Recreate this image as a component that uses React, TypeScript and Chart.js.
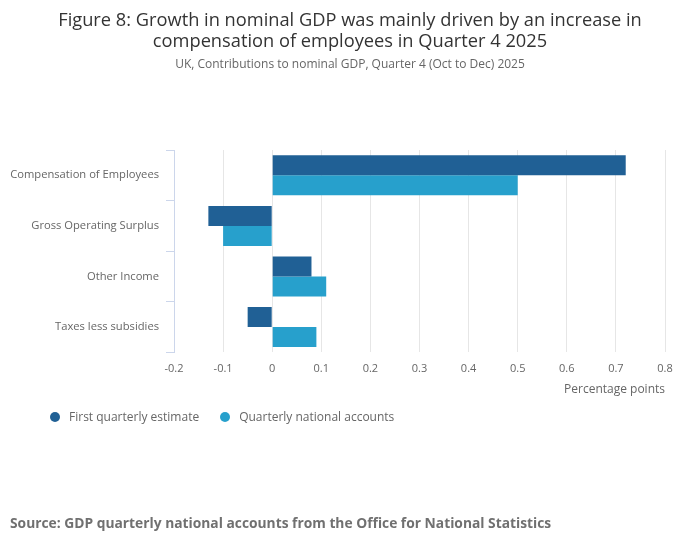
import React, { useEffect, useRef } from "react";
import { Chart, registerables } from "chart.js";

Chart.register(...registerables);

const categories = [
  "Compensation of Employees",
  "Gross Operating Surplus",
  "Other Income",
  "Taxes less subsidies",
];
const firstEstimate = [0.72, -0.13, 0.08, -0.05];
const quarterlyAccounts = [0.5, -0.1, 0.11, 0.09];
const seriesNames = ["First quarterly estimate", "Quarterly national accounts"];
const seriesColors = ["#206095", "#27a0cc"];
const titleLines = [
  "Figure 8: Growth in nominal GDP was mainly driven by an increase in",
  "compensation of employees in Quarter 4 2025",
];
const subtitleText = "UK, Contributions to nominal GDP, Quarter 4 (Oct to Dec) 2025";
const axisTitle = "Percentage points";
const sourceText = "Source: GDP quarterly national accounts from the Office for National Statistics";

const FONT = "'Open Sans', 'Noto Sans', sans-serif";

export default function App() {
  const ref = useRef<HTMLCanvasElement | null>(null);

  useEffect(() => {
    if (!ref.current) return;
    const chart = new Chart(ref.current, {
      type: "bar",
      data: {
        labels: categories,
        datasets: [
          {
            label: seriesNames[0],
            data: firstEstimate,
            backgroundColor: seriesColors[0],
            barPercentage: 1,
            categoryPercentage: 0.79,
          },
          {
            label: seriesNames[1],
            data: quarterlyAccounts,
            backgroundColor: seriesColors[1],
            barPercentage: 1,
            categoryPercentage: 0.79,
          },
        ],
      },
      options: {
        indexAxis: "y",
        animation: false,
        responsive: false,
        maintainAspectRatio: false,
        layout: { padding: { left: 2, right: 27, top: 142, bottom: 140 } },
        plugins: {
          legend: { display: false },
          tooltip: { enabled: false },
          title: { display: false },
          subtitle: { display: false },
        },
        scales: {
          x: {
            type: "linear",
            min: -0.2,
            max: 0.8,
            ticks: {
              stepSize: 0.1,
              color: "#666666",
              font: { family: FONT, size: 11 },
              padding: 10,
              callback: (v: any) => {
                const n = Math.round(Number(v) * 10) / 10;
                return n === 0 ? "0" : String(n);
              },
            },
            grid: { color: "#e6e6e6", drawTicks: false, lineWidth: 1 },
            border: { display: false },
            title: {
              display: true,
              text: axisTitle,
              align: "end",
              color: "#666666",
              font: { family: FONT, size: 12 },
              padding: { top: -3, bottom: 4 },
            },
          },
          y: {
            type: "category",
            offset: true,
            ticks: {
              color: "#666666",
              font: { family: FONT, size: 11.2 },
              padding: 7,
            },
            grid: {
              offset: true,
              drawOnChartArea: false,
              drawTicks: true,
              tickLength: 8,
              color: "#ccd6eb",
            },
            border: { display: true, color: "#ccd6eb" },
            afterFit: (scale: any) => {
              scale.width = 164;
            },
          },
        },
      },
    });
    return () => chart.destroy();
  }, []);

  return (
    <div style={{ position: "relative", width: 684, height: 533, fontFamily: FONT }}>
      <canvas ref={ref} width={684} height={533} style={{ display: "block", width: 684, height: 533 }} />
      <div
        style={{
          position: "absolute",
          left: 0,
          top: 0,
          width: 684,
          textAlign: "center",
          fontSize: 18.25,
          lineHeight: "21.4px",
          color: "#333333",
        }}
      >
        {titleLines.map((t) => (
          <div key={t}>{t}</div>
        ))}
      </div>
      <div
        style={{
          position: "absolute",
          left: 0,
          top: 49,
          width: 684,
          textAlign: "center",
          fontSize: 12,
          lineHeight: "14.4px",
          color: "#666666",
        }}
      >
        {subtitleText}
      </div>
      <div
        style={{
          position: "absolute",
          left: 42,
          top: 401,
          display: "flex",
          alignItems: "center",
          fontSize: 12,
          color: "#666666",
          lineHeight: "16px",
        }}
      >
        {seriesNames.map((n, i) => (
          <div key={n} style={{ display: "flex", alignItems: "center", marginRight: 21 }}>
            <span
              style={{
                display: "inline-block",
                width: 10,
                height: 10,
                borderRadius: "50%",
                background: seriesColors[i],
                marginRight: 9,
              }}
            />
            <span>{n}</span>
          </div>
        ))}
      </div>
      <div
        style={{
          position: "absolute",
          left: 2,
          top: 505,
          fontSize: 13.8,
          fontWeight: "bold",
          color: "#707070",
          lineHeight: "20px",
          whiteSpace: "nowrap",
        }}
      >
        {sourceText}
      </div>
    </div>
  );
}
